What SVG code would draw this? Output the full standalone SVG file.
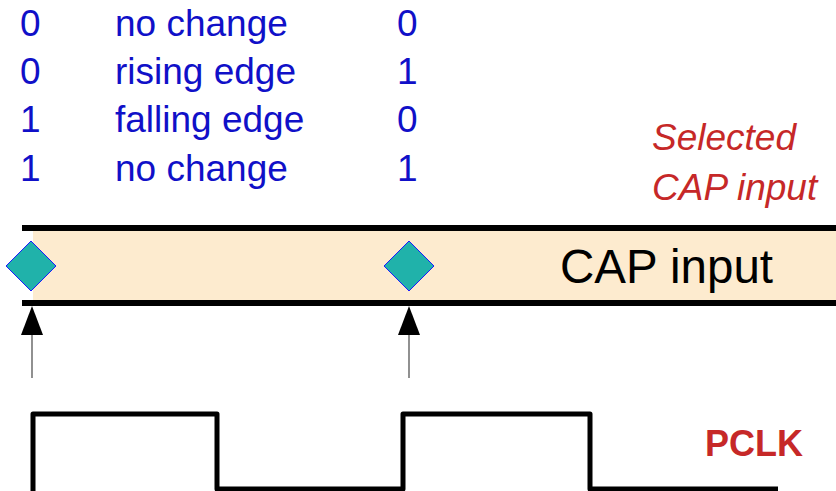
<svg xmlns="http://www.w3.org/2000/svg" width="836" height="491" viewBox="0 0 836 491">
<style>
.tbl{font-family:"Liberation Sans",Arial,sans-serif;font-size:37px;fill:#1010c8}
.sel{font-family:"Liberation Sans",Arial,sans-serif;font-size:37px;font-style:italic;fill:#c62828}
.cap{font-family:"Liberation Sans",Arial,sans-serif;font-size:47.5px;fill:#000}
.pclk{font-family:"Liberation Sans",Arial,sans-serif;font-size:36px;font-weight:bold;fill:#c62828}
.rail{stroke:#000;stroke-width:6;fill:none}
.dia{fill:#20b2aa;stroke:#1a1aff;stroke-width:1}
.arr{stroke:#555;stroke-width:1.3;fill:none}
</style>
<rect width="836" height="491" fill="#fff"/>
<g id="table">
<text class="tbl" x="20" y="36">0</text><text class="tbl" x="115" y="36">no change</text><text class="tbl" x="397" y="36">0</text>
<text class="tbl" x="20" y="84">0</text><text class="tbl" x="115" y="84">rising edge</text><text class="tbl" x="397" y="84">1</text>
<text class="tbl" x="20" y="132">1</text><text class="tbl" x="115" y="132">falling edge</text><text class="tbl" x="397" y="132">0</text>
<text class="tbl" x="20" y="181">1</text><text class="tbl" x="115" y="181">no change</text><text class="tbl" x="397" y="181">1</text>
</g>
<g id="selected-label">
<text class="sel" x="652" y="150">Selected</text>
<text class="sel" x="652" y="200">CAP input</text>
</g>
<g id="cap-band">
<rect x="33" y="231" width="803" height="69" fill="#fdebcf"/>
<line class="rail" x1="22" y1="228" x2="836" y2="228"/>
<line class="rail" x1="22" y1="303" x2="836" y2="303"/>
<text class="cap" x="560" y="283">CAP input</text>
</g>
<g id="diamond1"><path class="dia" d="M31,241 L56,266 L31,291 L6,266 Z"/></g>
<g id="diamond2"><path class="dia" d="M409,241 L434,266 L409,291 L384,266 Z"/></g>
<g id="connectors">
<line class="arr" x1="32" y1="378" x2="32" y2="335"/>
<path d="M21,335 L32,306 L43,335 Z" fill="#000"/>
<line class="arr" x1="409" y1="378" x2="409" y2="335"/>
<path d="M398,335 L409,306 L420,335 Z" fill="#000"/>
</g>
<g id="pclk">
<path d="M33,491 L33,414 L217,414 L217,489 L403,489 L403,414 L590,414 L590,489 L778,489" fill="none" stroke="#000" stroke-width="5" stroke-linejoin="round"/>
<text class="pclk" x="705" y="456">PCLK</text>
</g>
</svg>
